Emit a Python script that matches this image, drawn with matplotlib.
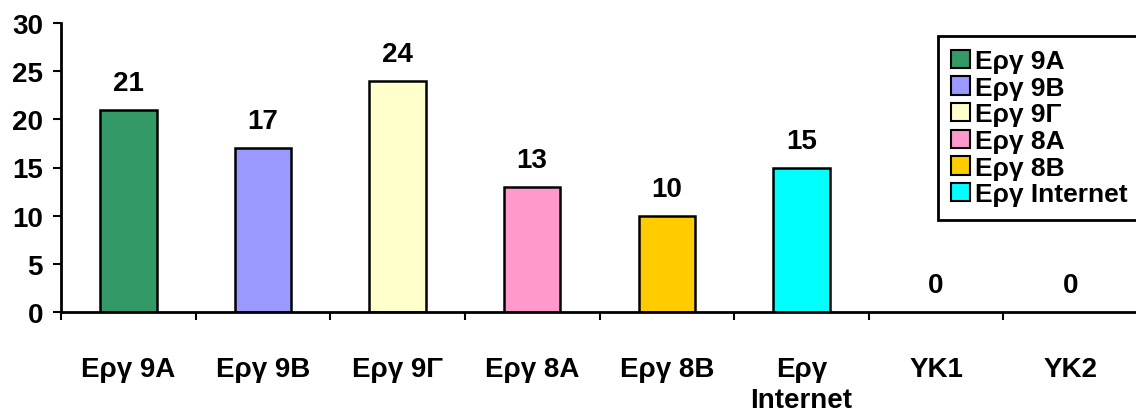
import matplotlib.pyplot as plt
from matplotlib.patches import Patch

plt.rcParams["font.family"] = ["Liberation Sans", "DejaVu Sans"]
plt.rcParams["font.weight"] = "bold"

labels = ["Εργ 9Α", "Εργ 9Β", "Εργ 9Γ", "Εργ 8Α", "Εργ 8Β", "Εργ\nInternet", "ΥΚ1", "ΥΚ2"]
legend_names = ["Εργ 9Α", "Εργ 9Β", "Εργ 9Γ", "Εργ 8Α", "Εργ 8Β", "Εργ Internet"]
values = [21, 17, 24, 13, 10, 15, 0, 0]
colors = ["#339966", "#9999FF", "#FFFFCC", "#FF99CC", "#FFCC00", "#00FFFF", "#FFFFFF", "#FFFFFF"]

fig = plt.figure(figsize=(11.36, 4.14), dpi=100)
ax = fig.add_axes([61 / 1136, 1 - 313 / 414, 1077 / 1136, 289 / 414])

x = range(len(values))
for i, v in enumerate(values):
    if v > 0:
        ax.bar(i, v, width=0.42, color=colors[i], edgecolor="black", linewidth=1.8)
    ax.annotate(str(v), (i, v), xytext=(0, 10), textcoords="offset points",
                ha="center", va="bottom", fontsize=20, fontweight="bold")

ax.set_xlim(-0.5, len(values) - 0.5)
ax.set_ylim(0, 30)
ax.set_yticks(range(0, 31, 5))
ax.set_xticks(list(x))
ax.set_xticklabels(labels, fontsize=20, fontweight="bold", va="top", linespacing=1.25)
ax.set_xticks([i + 0.5 for i in range(-1, len(values))], minor=True)
ax.tick_params(axis="x", which="major", length=0, pad=32)
ax.tick_params(axis="x", which="minor", length=6, width=1.5, direction="out")
ax.tick_params(axis="y", length=6, width=1.5, labelsize=20, pad=7)
for t in ax.get_yticklabels():
    t.set_fontweight("bold")

for side in ["top", "right"]:
    ax.spines[side].set_visible(False)
for side in ["left", "bottom"]:
    ax.spines[side].set_linewidth(2)

handles = [Patch(facecolor=colors[i], edgecolor="black", linewidth=1.5) for i in range(6)]
leg = fig.legend(handles, legend_names, loc="upper left",
                 bbox_to_anchor=(938 / 1136, 1 - 37 / 414), borderaxespad=0,
                 prop={"weight": "bold", "size": 19},
                 handlelength=0.7, handleheight=0.7, handletextpad=0.2,
                 labelspacing=0.1, borderpad=0.5, fancybox=False, framealpha=1)
leg.get_frame().set_edgecolor("black")
leg.get_frame().set_linewidth(2)

fig.savefig("out.png", dpi=100)
